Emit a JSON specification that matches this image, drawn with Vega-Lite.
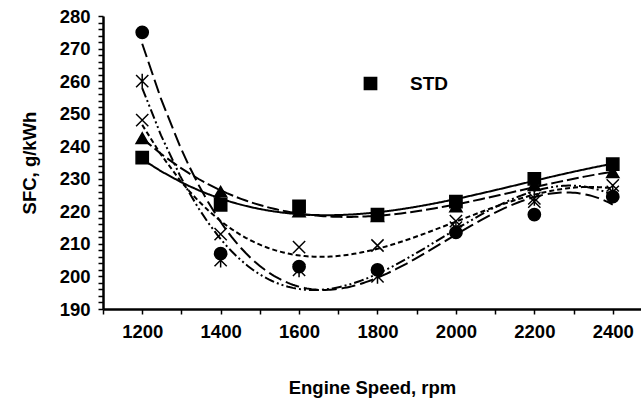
{
  "$schema": "https://vega.github.io/schema/vega-lite/v6.json",
  "width": 538,
  "height": 293,
  "autosize": "none",
  "padding": {"left": 103, "top": 16, "right": 0, "bottom": 98},
  "background": "white",
  "config": {
    "font": "Liberation Sans",
    "view": {"stroke": null},
    "axis": {
      "domainColor": "black", "domainWidth": 2.5,
      "tickColor": "black", "tickWidth": 1.5, "tickSize": 5,
      "labelColor": "black", "labelFont": "Liberation Sans", "labelFontSize": 18.5, "labelFontWeight": "bold",
      "titleColor": "black", "titleFont": "Liberation Sans", "titleFontSize": 18.5, "titleFontWeight": "bold",
      "grid": false
    }
  },
  "data": {"values": [
    {"series": "S2", "rpm": 1200, "sfc": 242.5},
    {"series": "S2", "rpm": 1400, "sfc": 226},
    {"series": "S2", "rpm": 1600, "sfc": 220},
    {"series": "S2", "rpm": 1800, "sfc": 218.5},
    {"series": "S2", "rpm": 2000, "sfc": 221.5},
    {"series": "S2", "rpm": 2200, "sfc": 228},
    {"series": "S2", "rpm": 2400, "sfc": 232},
    {"series": "S4", "rpm": 1200, "sfc": 260},
    {"series": "S4", "rpm": 1400, "sfc": 205},
    {"series": "S4", "rpm": 1600, "sfc": 202},
    {"series": "S4", "rpm": 1800, "sfc": 200},
    {"series": "S4", "rpm": 2000, "sfc": 215},
    {"series": "S4", "rpm": 2200, "sfc": 224},
    {"series": "S4", "rpm": 2400, "sfc": 226},
    {"series": "S5", "rpm": 1200, "sfc": 275},
    {"series": "S5", "rpm": 1400, "sfc": 207},
    {"series": "S5", "rpm": 1600, "sfc": 203},
    {"series": "S5", "rpm": 1800, "sfc": 202},
    {"series": "S5", "rpm": 2000, "sfc": 213.5},
    {"series": "S5", "rpm": 2200, "sfc": 219},
    {"series": "S5", "rpm": 2400, "sfc": 224.5},
    {"series": "S3", "rpm": 1200, "sfc": 248},
    {"series": "S3", "rpm": 1400, "sfc": 213},
    {"series": "S3", "rpm": 1600, "sfc": 209},
    {"series": "S3", "rpm": 1800, "sfc": 209.5},
    {"series": "S3", "rpm": 2000, "sfc": 217},
    {"series": "S3", "rpm": 2200, "sfc": 223},
    {"series": "S3", "rpm": 2400, "sfc": 228},
    {"series": "STD", "rpm": 1200, "sfc": 236.5},
    {"series": "STD", "rpm": 1400, "sfc": 222},
    {"series": "STD", "rpm": 1600, "sfc": 221.5},
    {"series": "STD", "rpm": 1800, "sfc": 219},
    {"series": "STD", "rpm": 2000, "sfc": 223},
    {"series": "STD", "rpm": 2200, "sfc": 230},
    {"series": "STD", "rpm": 2400, "sfc": 234.5}
  ]},
  "encoding": {
    "x": {
      "field": "rpm", "type": "quantitative",
      "scale": {"domain": [1100, 2472], "nice": false, "zero": false},
      "axis": {
        "title": "Engine Speed, rpm",
        "values": [1100, 1200, 1300, 1400, 1500, 1600, 1700, 1800, 1900, 2000, 2100, 2200, 2300, 2400],
        "labelExpr": "datum.value % 200 === 0 ? datum.label : ''",
        "format": "d", "labelPadding": 8, "titlePadding": 38, "labelFlush": false
      }
    },
    "y": {
      "field": "sfc", "type": "quantitative",
      "scale": {"domain": [190, 280], "nice": false, "zero": false},
      "axis": {
        "title": "SFC, g/kWh",
        "values": [190,192,194,196,198,200,202,204,206,208,210,212,214,216,218,220,222,224,226,228,230,232,234,236,238,240,242,244,246,248,250,252,254,256,258,260,262,264,266,268,270,272,274,276,278,280],
        "labelExpr": "datum.value % 10 === 0 ? datum.label : ''",
        "labelPadding": 8, "titlePadding": 20, "labelFlush": false
      }
    }
  },
  "layer": [
    {
      "transform": [
        {"regression": "sfc", "on": "rpm", "groupby": ["series"], "method": "poly", "order": 3, "extent": [1200, 2400]}
      ],
      "mark": {"type": "line", "color": "black", "strokeWidth": 2},
      "encoding": {
        "detail": {"field": "series"},
        "strokeDash": {
          "field": "series", "type": "nominal",
          "scale": {"domain": ["STD", "S2", "S3", "S4", "S5"], "range": [[1, 0], [12, 4], [5, 3], [10, 3, 2, 3, 2, 3], [14, 5]]}
        }
      }
    },
    {
      "mark": {"type": "point", "filled": true, "opacity": 1, "stroke": "black", "strokeWidth": 1.5},
      "encoding": {
        "shape": {
          "field": "series", "type": "nominal",
          "scale": {"domain": ["STD", "S2", "S3", "S4", "S5"], "range": ["square", "triangle-up", "M-1,-1L1,1M-1,1L1,-1", "M-1,-1L1,1M-1,1L1,-1M0,-1.2L0,1.2", "circle"]},
          "legend": {
            "values": ["STD"], "orient": "none", "legendX": 258, "legendY": 58,
            "title": null, "padding": 0, "symbolSize": 144, "symbolFillColor": "black", "symbolStrokeColor": "black",
            "symbolType": "square", "labelFontSize": 19, "labelFontWeight": "bold", "labelColor": "black", "labelOffset": 30,
            "labelFont": "Liberation Sans"
          }
        },
        "fill": {
          "field": "series", "type": "nominal",
          "scale": {"domain": ["STD", "S2", "S3", "S4", "S5"], "range": ["black", "black", "transparent", "transparent", "black"]}
        },
        "size": {
          "field": "series", "type": "nominal",
          "scale": {"domain": ["STD", "S2", "S3", "S4", "S5"], "range": [150, 150, 170, 170, 150]}
        }
      }
    }
  ]
}
